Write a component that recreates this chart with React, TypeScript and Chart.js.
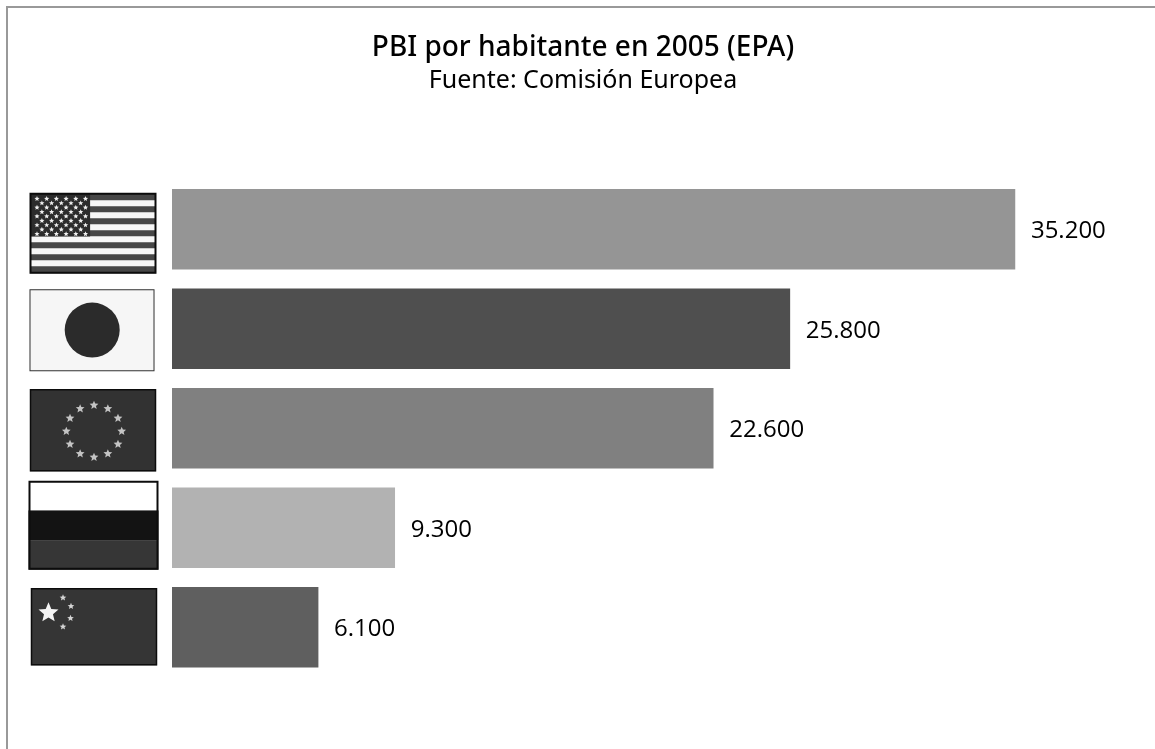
import React, { useEffect, useRef } from "react";
import { Chart, registerables, Plugin } from "chart.js";

Chart.register(...registerables);

const titleText = "PBI por habitante en 2005 (EPA)";
const subtitleText = "Fuente: Comisión Europea";
const countries = ["Estados Unidos", "Japón", "Unión Europea", "Polonia", "China"];
const gdpPerCapita = [35200, 25800, 22600, 9300, 6100];
const barColors = ["#959595", "#4f4f4f", "#808080", "#b2b2b2", "#5f5f5f"];
const flagCodes = ["us", "jp", "eu", "pl", "cn"];

type Box = { x: number; dy: number; w: number; h: number };
const flagBoxes: Box[] = [
  { x: 30, dy: -36, w: 126, h: 80 },
  { x: 29.5, dy: -39.5, w: 125, h: 82 },
  { x: 30, dy: -39, w: 126, h: 82 },
  { x: 28.5, dy: -47, w: 130, h: 89 },
  { x: 31, dy: -39, w: 126, h: 77 },
];

function star(ctx: CanvasRenderingContext2D, cx: number, cy: number, r: number, fill: string) {
  ctx.beginPath();
  for (let i = 0; i < 10; i++) {
    const a = -Math.PI / 2 + (i * Math.PI) / 5;
    const rad = i % 2 === 0 ? r : r * 0.45;
    ctx.lineTo(cx + Math.cos(a) * rad, cy + Math.sin(a) * rad);
  }
  ctx.closePath();
  ctx.fillStyle = fill;
  ctx.fill();
}

function drawFlag(ctx: CanvasRenderingContext2D, code: string, x: number, y: number, w: number, h: number) {
  if (code === "us") {
    ctx.fillStyle = "#474747";
    ctx.fillRect(x, y, w, h);
    const stripe = (h - 2) / 13;
    for (let i = 1; i < 13; i += 2) {
      ctx.fillStyle = "#f7f7f7";
      ctx.fillRect(x, y + 1 + i * stripe, w, stripe);
    }
    ctx.fillStyle = "#2c2c2c";
    ctx.fillRect(x, y, w * 0.477, h * 0.54);
    for (let r = 0; r < 9; r++) {
      const n = r % 2 === 0 ? 6 : 5;
      const off = r % 2 === 0 ? 0 : 4.9;
      for (let c = 0; c < n; c++) {
        star(ctx, x + 7 + off + c * 9.7, y + 5.5 + r * 4.4, 2.7, "#f0f0f0");
      }
    }
    ctx.strokeStyle = "#0c0c0c";
    ctx.lineWidth = 2;
    ctx.strokeRect(x + 0.5, y + 0.5, w - 1, h - 1);
  } else if (code === "jp") {
    ctx.fillStyle = "#f6f6f6";
    ctx.fillRect(x, y, w, h);
    ctx.fillStyle = "#2b2b2b";
    ctx.beginPath();
    ctx.arc(x + w / 2 + 0.2, y + h / 2 - 0.2, 27.5, 0, Math.PI * 2);
    ctx.fill();
    ctx.strokeStyle = "#333";
    ctx.lineWidth = 1;
    ctx.strokeRect(x + 0.5, y + 0.5, w - 1, h - 1);
  } else if (code === "eu") {
    ctx.fillStyle = "#323232";
    ctx.fillRect(x, y, w, h);
    for (let i = 0; i < 12; i++) {
      const a = (i * Math.PI) / 6 - Math.PI / 2;
      star(ctx, x + w / 2 + 1 + Math.cos(a) * 27.7, y + h / 2 + 1 + Math.sin(a) * 26, 4.6, "#c4c4c4");
    }
    ctx.strokeStyle = "#0c0c0c";
    ctx.lineWidth = 1.5;
    ctx.strokeRect(x + 0.5, y + 0.5, w - 1, h - 1);
  } else if (code === "pl") {
    ctx.fillStyle = "#ffffff";
    ctx.fillRect(x, y, w, h / 3);
    ctx.fillStyle = "#131313";
    ctx.fillRect(x, y + h / 3, w, h / 3);
    ctx.fillStyle = "#363636";
    ctx.fillRect(x, y + (2 * h) / 3, w, h / 3);
    ctx.strokeStyle = "#0c0c0c";
    ctx.lineWidth = 2;
    ctx.strokeRect(x + 1, y + 1, w - 2, h - 2);
  } else {
    ctx.fillStyle = "#353535";
    ctx.fillRect(x, y, w, h);
    star(ctx, x + 17.5, y + 24.5, 10.5, "#f4f4f4");
    star(ctx, x + 32, y + 9.5, 3.5, "#d4d4d4");
    star(ctx, x + 40, y + 18, 3.5, "#d4d4d4");
    star(ctx, x + 39.5, y + 30, 3.5, "#d4d4d4");
    star(ctx, x + 32, y + 38.5, 3.5, "#d4d4d4");
    ctx.strokeStyle = "#0c0c0c";
    ctx.lineWidth = 1.5;
    ctx.strokeRect(x + 0.5, y + 0.5, w - 1, h - 1);
  }
}

// Flags sit to the left of each bar, centred from the category scale.
const flagsPlugin: Plugin<"bar"> = {
  id: "flags",
  afterDraw(chart) {
    const { ctx } = chart;
    const yScale = chart.scales.y;
    ctx.save();
    ctx.filter = "blur(0.6px)";
    flagCodes.forEach((code, i) => {
      const b = flagBoxes[i];
      drawFlag(ctx, code, b.x, yScale.getPixelForValue(i) + b.dy, b.w, b.h);
    });
    ctx.restore();
  },
};

// Value labels follow the end of each bar.
const valueLabelsPlugin: Plugin<"bar"> = {
  id: "valueLabels",
  afterDatasetsDraw(chart) {
    const { ctx } = chart;
    ctx.save();
    ctx.font = '24px "Open Sans"';
    ctx.fillStyle = "#000";
    ctx.textBaseline = "middle";
    chart.getDatasetMeta(0).data.forEach((bar, i) => {
      ctx.fillText(gdpPerCapita[i].toLocaleString("de-DE"), bar.x + 16, bar.y + 2);
    });
    ctx.restore();
  },
};

export default function App() {
  const canvasRef = useRef<HTMLCanvasElement>(null);

  useEffect(() => {
    const chart = new Chart(canvasRef.current!, {
      type: "bar",
      data: {
        labels: countries,
        datasets: [{ data: gdpPerCapita, backgroundColor: barColors, barThickness: 80, borderWidth: 0 }],
      },
      options: {
        indexAxis: "y",
        animation: false,
        responsive: false,
        layout: { padding: { left: 11, right: 0, top: 0, bottom: 72 } },
        scales: {
          x: { display: false, min: 0, max: 41050 },
          y: {
            grid: { display: false },
            border: { display: false },
            ticks: { display: false },
            afterFit: (scale) => {
              scale.width = 161;
            },
          },
        },
        plugins: {
          legend: { display: false },
          tooltip: { enabled: false },
          title: {
            display: true,
            text: titleText,
            color: "#000",
            font: { family: '"Noto Sans"', size: 28, weight: 500, lineHeight: 1.2 },
            padding: { top: 31, bottom: 0 },
          },
          subtitle: {
            display: true,
            text: subtitleText,
            color: "#000",
            font: { family: '"Noto Sans"', size: 25, weight: 400, lineHeight: 1.2 },
            padding: { top: 1.4, bottom: 83.5 },
          },
        },
      },
      plugins: [flagsPlugin, valueLabelsPlugin],
    });
    return () => chart.destroy();
  }, []);

  return (
    <div style={{ position: "fixed", left: 0, top: 0, width: 1155, height: 749, background: "#fff", overflow: "hidden" }}>
      <canvas ref={canvasRef} width={1155} height={749} style={{ display: "block" }} />
      <div
        style={{
          position: "absolute",
          left: 6,
          top: 6,
          right: -10,
          bottom: -10,
          borderTop: "2px solid #999",
          borderLeft: "2px solid #999",
        }}
      />
    </div>
  );
}
